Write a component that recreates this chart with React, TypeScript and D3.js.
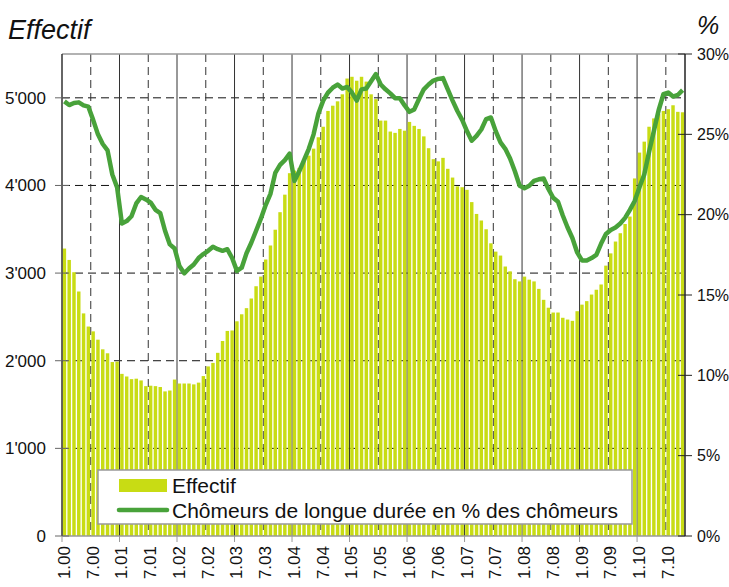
import { useEffect, useRef } from 'react'
import * as d3 from 'd3'

// Effectif des chômeurs, mensuel, 1.00 – 10.10
const effectif = [
  3280, 3150, 3010, 2790, 2540, 2390, 2335, 2240, 2130, 2085, 1985, 1990,
  1850, 1820, 1790, 1795, 1775, 1710, 1715, 1710, 1700, 1650, 1660, 1785,
  1740, 1740, 1740, 1730, 1750, 1825, 1935, 1975, 2090, 2225, 2340, 2345,
  2450, 2530, 2600, 2710, 2850, 2960, 3155, 3315, 3495, 3695, 3895, 4140,
  4170, 4200, 4290, 4340, 4420, 4550, 4670, 4850, 4910, 4960, 5040, 5220,
  5240, 5195, 5240, 5185, 5040, 4985, 4740, 4740, 4615, 4600, 4645, 4625,
  4725, 4680, 4645, 4560, 4425, 4300, 4275, 4315, 4190, 4090, 3990, 3980,
  3950, 3810, 3675, 3600, 3500, 3340, 3245, 3200, 3075, 3020, 2930, 2905,
  2960, 2925, 2905, 2820, 2695, 2605, 2550, 2550, 2490, 2470, 2455, 2565,
  2640, 2680, 2755, 2810, 2870, 3085, 3225, 3360, 3455, 3560, 3645, 4080,
  4375, 4500, 4670, 4765, 4815, 4850, 4870, 4915, 4840, 4835
]

// Chômeurs de longue durée en % des chômeurs
const longueDuree = [
  27.05, 26.82, 26.95, 26.99, 26.8, 26.72, 25.9, 25.0, 24.4, 24.0, 22.5, 21.7,
  19.45, 19.6, 19.9, 20.7, 21.1, 20.95, 20.75, 20.3, 20.1, 19.0, 18.15, 17.9,
  16.8, 16.35, 16.65, 16.9, 17.3, 17.55, 17.75, 18.0, 17.85, 17.75, 17.85, 17.3,
  16.5, 16.7, 17.6, 18.25, 19.0, 19.75, 20.6, 21.3, 22.6, 23.1, 23.4, 23.8,
  22.1, 22.7, 23.4, 24.1, 25.0, 26.3, 27.1, 27.6, 27.9, 28.1, 27.85, 27.95,
  27.6, 27.1, 27.8, 27.85, 28.3, 28.75, 28.1, 27.8, 27.55, 27.25, 27.25, 26.8,
  26.4, 26.55, 27.2, 27.8, 28.1, 28.35, 28.45, 28.5, 27.8, 27.1, 26.45, 25.9,
  25.2, 24.6, 24.9, 25.3, 25.95, 26.05, 25.2, 24.5, 24.1, 23.5, 22.7, 21.8,
  21.65, 21.8, 22.1, 22.2, 22.25, 21.6, 21.05, 20.8, 19.95, 19.2, 18.55, 17.65,
  17.15, 17.15, 17.3, 17.5, 18.2, 18.8, 19.05, 19.2, 19.45, 19.8, 20.3, 20.85,
  21.7, 22.5, 23.9, 25.2, 26.5, 27.5, 27.6, 27.35, 27.45, 27.75
]

const months = effectif.map((_, i) => `${(i % 12) + 1}.${String(Math.floor(i / 12)).padStart(2, '0')}`)
const leftTicks = [0, 1000, 2000, 3000, 4000, 5000]
const rightTicks = [0, 5, 10, 15, 20, 25, 30]

const W = 729
const H = 587
const FONT = "'Liberation Sans', Arial, sans-serif"
const BAR = '#c8dc14'
const LINE = '#48a23a'

export default function App() {
  const svgRef = useRef<SVGSVGElement>(null)

  useEffect(() => {
    if (!svgRef.current) return
    const svg = d3.select(svgRef.current)
    svg.selectAll('*').remove()

    const m = { top: 54, right: 44, bottom: 51, left: 62 }
    const x0 = m.left
    const x1 = W - m.right
    const y0 = H - m.bottom
    const y1 = m.top

    const x = d3.scaleBand<string>()
      .domain(months)
      .range([x0, x1])
      .paddingInner(0.28)
      .paddingOuter(0.14)
    const step = x.step()
    const edge = (i: number) => x0 + step * i

    const yL = d3.scaleLinear().domain([0, 5500]).range([y0, y1])
    const yR = d3.scaleLinear().domain([0, 30]).range([y0, y1])

    const fmt = d3.formatLocale({ decimal: '.', thousands: "'", grouping: [3], currency: ['', ''] }).format(',')

    const g = svg.append('g')

    // horizontal grid
    g.selectAll('.hgrid')
      .data(leftTicks.slice(1))
      .enter()
      .append('line')
      .attr('x1', x0).attr('x2', x1)
      .attr('y1', d => yL(d)).attr('y2', d => yL(d))
      .style('stroke', '#111')
      .style('stroke-width', 1)
      .style('stroke-dasharray', '8,5')

    // vertical grid: solid in January, dashed in July
    const gridIdx = months.map((_, i) => i).filter(i => i % 6 === 0 && i > 0)
    g.selectAll('.vgrid')
      .data(gridIdx)
      .enter()
      .append('line')
      .attr('x1', d => edge(d)).attr('x2', d => edge(d))
      .attr('y1', y1).attr('y2', y0)
      .style('stroke', '#333')
      .style('stroke-width', 1)
      .style('stroke-dasharray', d => d % 12 === 0 ? null : '8,5')

    // bars
    g.selectAll('.bar')
      .data(effectif)
      .enter()
      .append('rect')
      .attr('x', (_, i) => x(months[i])!)
      .attr('width', x.bandwidth())
      .attr('y', d => yL(d))
      .attr('height', d => y0 - yL(d))
      .style('fill', BAR)

    // line
    const line = d3.line<number>()
      .x((_, i) => x(months[i])! + x.bandwidth() / 2)
      .y(d => yR(d))
    g.append('path')
      .datum(longueDuree)
      .attr('d', line)
      .style('fill', 'none')
      .style('stroke', LINE)
      .style('stroke-width', 4.5)
      .style('stroke-linejoin', 'round')

    // frame
    g.append('line').attr('x1', x0).attr('x2', x1).attr('y1', y1).attr('y2', y1)
      .style('stroke', '#999').style('stroke-width', 1.5)
    g.append('line').attr('x1', x0).attr('x2', x1).attr('y1', y0).attr('y2', y0)
      .style('stroke', '#999').style('stroke-width', 1.5)
    g.append('line').attr('x1', x0).attr('x2', x0).attr('y1', y1).attr('y2', y0)
      .style('stroke', '#333').style('stroke-width', 1.5)
    g.append('line').attr('x1', x1).attr('x2', x1).attr('y1', y1).attr('y2', y0)
      .style('stroke', '#222').style('stroke-width', 1.5)

    // left axis
    const la = g.selectAll('.lt').data(leftTicks).enter().append('g')
    la.append('line')
      .attr('x1', x0 - 7).attr('x2', x0 + 7)
      .attr('y1', d => yL(d)).attr('y2', d => yL(d))
      .style('stroke', '#666')
    la.append('text')
      .attr('x', x0 - 16)
      .attr('y', d => yL(d))
      .attr('dy', '0.35em')
      .style('text-anchor', 'end')
      .style('font-family', FONT)
      .style('font-size', '17px')
      .style('fill', '#111')
      .text(d => fmt(d))

    // right axis
    const ra = g.selectAll('.rt').data(rightTicks).enter().append('g')
    ra.append('line')
      .attr('x1', x1 - 7).attr('x2', x1 + 7)
      .attr('y1', d => yR(d)).attr('y2', d => yR(d))
      .style('stroke', '#222')
    ra.append('text')
      .attr('x', x1 + 12)
      .attr('y', d => yR(d))
      .attr('dy', '0.35em')
      .style('font-family', FONT)
      .style('font-size', '16px')
      .style('fill', '#111')
      .text(d => `${d}%`)

    // bottom axis ticks (yearly) and labels (half-yearly)
    const yearIdx = months.map((_, i) => i).filter(i => i % 12 === 0)
    g.selectAll('.bt')
      .data(yearIdx)
      .enter()
      .append('line')
      .attr('x1', d => edge(d)).attr('x2', d => edge(d))
      .attr('y1', y0).attr('y2', y0 + 6)
      .style('stroke', '#999')
    const labIdx = months.map((_, i) => i).filter(i => i % 6 === 0)
    g.selectAll('.bl')
      .data(labIdx)
      .enter()
      .append('text')
      .attr('transform', d => `translate(${edge(d) + 2},${y0 + 10}) rotate(-90)`)
      .attr('dy', '0.35em')
      .style('text-anchor', 'end')
      .style('font-family', FONT)
      .style('font-size', '17px')
      .style('fill', '#111')
      .text(d => months[d])

    // titles
    svg.append('text')
      .attr('x', 8).attr('y', 39)
      .style('font-family', FONT)
      .style('font-style', 'italic')
      .style('font-size', '27px')
      .style('fill', '#111')
      .text('Effectif')
    svg.append('text')
      .attr('x', 697).attr('y', 34)
      .style('font-family', FONT)
      .style('font-style', 'italic')
      .style('font-size', '25px')
      .style('fill', '#111')
      .text('%')

    // legend
    const lg = svg.append('g')
    lg.append('rect')
      .attr('x', 98).attr('y', 470).attr('width', 534).attr('height', 54)
      .style('fill', 'white')
      .style('stroke', '#999')
      .style('stroke-width', 1.5)
    lg.append('rect')
      .attr('x', 119).attr('y', 479).attr('width', 48).attr('height', 13)
      .style('fill', BAR)
    lg.append('line')
      .attr('x1', 119).attr('x2', 167).attr('y1', 510).attr('y2', 510)
      .style('stroke', LINE).style('stroke-width', 4.5).style('stroke-linecap', 'round')
    lg.append('text')
      .attr('x', 172).attr('y', 493)
      .style('font-family', FONT).style('font-size', '21px').style('fill', '#111')
      .text('Effectif')
    lg.append('text')
      .attr('x', 172).attr('y', 518)
      .style('font-family', FONT).style('font-size', '21px').style('fill', '#111')
      .text('Chômeurs de longue durée en % des chômeurs')
  }, [])

  return (
    <div style={{ position: 'absolute', left: 0, top: 0, width: W, height: H, background: 'white' }}>
      <svg ref={svgRef} width={W} height={H} />
    </div>
  )
}
